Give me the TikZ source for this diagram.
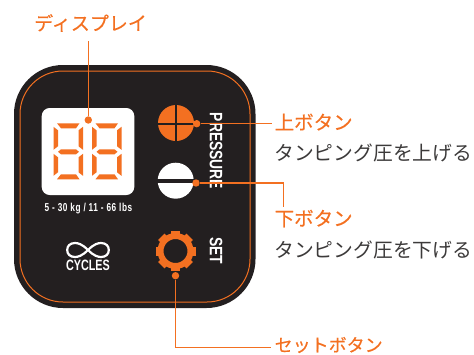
\documentclass[tikz,border=0pt]{standalone}
\usepackage{fontspec}
\setmainfont{Noto Sans CJK JP}
\newfontfamily\calloutfont[FakeBold=0.3]{Noto Sans CJK JP}
\newfontfamily\latinfont[FakeStretch=0.77]{Liberation Sans}
\newfontfamily\smallfont[FakeStretch=0.72]{Liberation Sans}
\newfontfamily\rangefont[FakeStretch=0.72,LetterSpace=5]{Liberation Sans}
\definecolor{panelblack}{HTML}{231F20}
\definecolor{accent}{HTML}{F37021}
\definecolor{notegray}{HTML}{3C3A3A}
\tikzset{
  leader/.style={accent,line width=1.4pt},
  dot/.style={circle,fill=accent,inner sep=0pt,minimum size=7.4pt},
  callout/.style={text=accent,anchor=west,inner sep=0pt,font=\calloutfont\fontsize{19}{21}\selectfont},
  note/.style={text=notegray,anchor=west,inner sep=0pt,font=\fontsize{19.8}{21}\selectfont},
  paneltext/.style={text=white,inner sep=0pt,font=\latinfont\bfseries\fontsize{18}{19}\selectfont},
  seg/.style={fill=accent}
}
% one seven segment digit, all segments on, #1 = left, #2 = top
\newcommand{\lcddigit}[2]{
  \begin{scope}[shift={(#1,#2)}]
    \fill [seg] (3.5,0) -- (26,0) -- (22.5,5) -- (7.5,5) -- cycle;
    \fill [seg] (3.5,56) -- (26,56) -- (22.5,51) -- (7.5,51) -- cycle;
    \fill [seg] (4.5,28.5) -- (7.5,26) -- (22.5,26) -- (25.5,28.5) -- (22.5,31) -- (7.5,31) -- cycle;
    \fill [seg] (0,3.5) -- (4.5,7) -- (4.5,23) -- (0,26.5) -- cycle;
    \fill [seg] (29.5,3.5) -- (25,7) -- (25,23) -- (29.5,26.5) -- cycle;
    \fill [seg] (0,30.5) -- (4.5,34) -- (4.5,49) -- (0,52.5) -- cycle;
    \fill [seg] (29.5,30.5) -- (25,34) -- (25,49) -- (29.5,52.5) -- cycle;
  \end{scope}
}
\begin{document}
\begin{tikzpicture}[x=1pt,y=-1pt]
  \useasboundingbox (0,0) rectangle (474,354);
  % panel
  \fill [panelblack,rounded corners=49pt] (14,65) rectangle (255.5,308);
  \draw [accent,line width=1pt,rounded corners=43pt] (20,71) rectangle (250,302);
  \fill [white,rounded corners=8pt] (41.7,108) rectangle (134.3,195);
  \lcddigit{53.5}{123.3}
  \lcddigit{92}{123.3}
  \node [paneltext,font=\rangefont\bfseries\fontsize{11.5}{12}\selectfont] (range) at (88.5,208.5) {5 - 30 kg / 11 - 66 lbs};
  % pressure buttons
  \fill [accent] (176,123) circle (18pt);
  \draw [panelblack,line width=2pt] (176,104) -- (176,142);
  \draw [panelblack,line width=2pt] (157,123.5) -- (195,123.5);
  \fill [white] (175.7,180.7) circle (18pt);
  \draw [panelblack,line width=4pt] (156,180.5) -- (195,180.5);
  \node [paneltext,rotate=-90] (pressure) at (216,151) {PRESSURE};
  % set button
  \foreach \a in {0,45,...,315}
    \fill [accent,rotate around={\a:(175.5,251)}] (171,231) rectangle (180,238);
  \draw [accent,line width=6pt] (175.5,251) circle (15pt);
  \node [paneltext,rotate=-90] (setlabel) at (216,250.5) {SET};
  % cycles
  \draw [white,line width=2.2pt] (88,250) .. controls (82,244) and (78,243) .. (75,243) .. controls (70,243) and (67.2,246) .. (67.2,250) .. controls (67.2,254) and (70,257) .. (75,257) .. controls (78,257) and (82,256) .. (88,250) .. controls (94,244) and (98,243) .. (101,243) .. controls (106,243) and (108.8,246) .. (108.8,250) .. controls (108.8,254) and (106,257) .. (101,257) .. controls (98,257) and (94,256) .. (88,250) -- cycle;
  \node [paneltext,font=\smallfont\bfseries\fontsize{15}{16}\selectfont] (cycles) at (88,265.5) {CYCLES};
  % labels
  \node [callout] (display) at (34,23) {ディスプレイ};
  \node [callout,font=\calloutfont\fontsize{19.5}{21}\selectfont] (up) at (274.5,122) {上ボタン};
  \node [note] (upnote) at (274,152.5) {タンピング圧を上げる};
  \node [callout,font=\calloutfont\fontsize{19.5}{21}\selectfont] (down) at (274.5,218.5) {下ボタン};
  \node [note] (downnote) at (274,250) {タンピング圧を下げる};
  \node [callout,font=\calloutfont\fontsize{18}{20}\selectfont] (setbtn) at (274.5,345) {セットボタン};
  % leaders
  \node [dot] (dispdot) at (88.3,120) {};
  \node [dot] (updot) at (196.7,123.7) {};
  \node [dot] (downdot) at (196,183) {};
  \node [dot] (setdot) at (175.5,275.7) {};
  \coordinate (dispend) at (88.3,40.7);
  \coordinate (upend) at (272,123.7);
  \coordinate (downcorner) at (283.7,183);
  \coordinate (downend) at (283.7,207);
  \coordinate (setend) at (271,347.3);
  \draw [leader] (dispdot) -- (dispend);
  \draw [leader] (updot) -- (upend);
  \draw [leader] (downdot) -- (downcorner) -- (downend);
  \draw [leader] (setdot) |- (setend);
\end{tikzpicture}
\end{document}
